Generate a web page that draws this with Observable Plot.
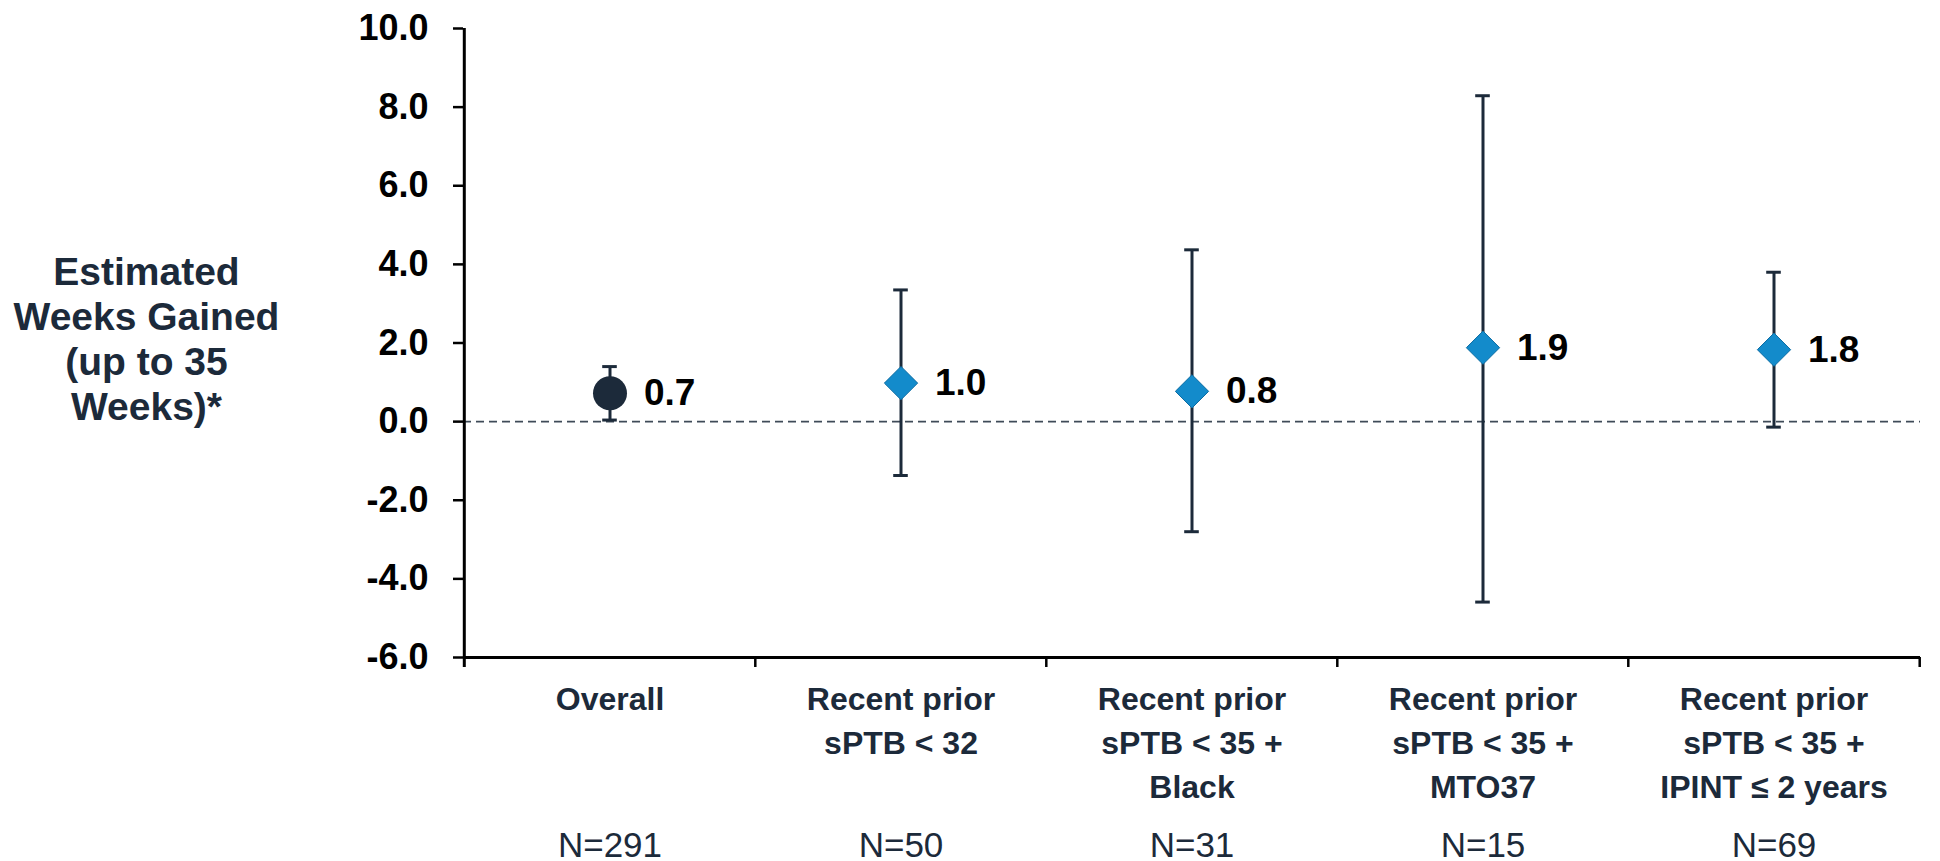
<!DOCTYPE html>
<html>
<head>
<meta charset="utf-8">
<script src="https://cdn.jsdelivr.net/npm/d3@7"></script>
<script src="https://cdn.jsdelivr.net/npm/@observablehq/plot@0.6"></script>
<style>
  html, body { margin: 0; padding: 0; background: #ffffff; overflow: hidden; }
  #chart svg { display: block; }
</style>
</head>
<body>
<div id="chart"></div>
<script>
// ---- data ----
const categories = [
  "Overall",
  "Recent prior\nsPTB < 32",
  "Recent prior\nsPTB < 35 +\nBlack",
  "Recent prior\nsPTB < 35 +\nMTO37",
  "Recent prior\nsPTB < 35 +\nIPINT ≤ 2 years"
];
const estimates = [0.72, 0.98, 0.77, 1.88, 1.83];
const estimateLabels = ["0.7", "1.0", "0.8", "1.9", "1.8"];
const lowerCI = [0.04, -1.37, -2.80, -4.59, -0.14];
const upperCI = [1.40, 3.35, 4.37, 8.29, 3.80];
const sampleSizes = ["N=291", "N=50", "N=31", "N=15", "N=69"];
const yTicks = [-6, -4, -2, 0, 2, 4, 6, 8, 10];
const yLabel = "Estimated\nWeeks Gained\n(up to 35\nWeeks)*";

// ---- layout ----
const W = 1940, H = 861;
const mL = 463, mR = 20, mT = 28, mB = 204;
const bw = (W - mL - mR) / categories.length;
const unitPx = (H - mT - mB) / (yTicks[yTicks.length - 1] - yTicks[0]);
const ext = 10 / unitPx; // 10px tick below the x axis, in y units
const navy = "#1c2a3a";
const blue = "#138bcb";
const font = "'Liberation Sans', Arial, Helvetica, sans-serif";

const rows = categories.map((c, i) => ({
  cat: c, est: estimates[i], lo: lowerCI[i], hi: upperCI[i],
  label: estimateLabels[i], n: sampleSizes[i], overall: i === 0
}));

const chart = Plot.plot({
  width: W,
  height: H,
  marginLeft: mL,
  marginRight: mR,
  marginTop: mT,
  marginBottom: mB,
  style: { fontFamily: font, background: "#ffffff", overflow: "visible" },
  x: { type: "band", domain: categories, padding: 0, axis: null },
  y: { domain: [yTicks[0], yTicks[yTicks.length - 1]] },
  marks: [
    // dashed zero line
    Plot.ruleY([0], { stroke: "#3f4b58", strokeWidth: 1.6, strokeDasharray: "8,5" }),
    // error bars
    Plot.ruleX(rows, { x: "cat", y1: "lo", y2: "hi", stroke: navy, strokeWidth: 3 }),
    Plot.tickY(rows, { x: "cat", y: "lo", stroke: navy, strokeWidth: 3, insetLeft: bw / 2 - 7.5, insetRight: bw / 2 - 7.5 }),
    Plot.tickY(rows, { x: "cat", y: "hi", stroke: navy, strokeWidth: 3, insetLeft: bw / 2 - 7.5, insetRight: bw / 2 - 7.5 }),
    // points
    Plot.dot(rows.filter(d => d.overall), { x: "cat", y: "est", r: 17, fill: navy, stroke: "none" }),
    Plot.dot(rows.filter(d => !d.overall), { x: "cat", y: "est", symbol: "diamond2", r: 15, fill: blue, stroke: "#0b6ca3", strokeWidth: 1 }),
    // value labels
    Plot.text(rows, { x: "cat", y: "est", text: "label", dx: 34, textAnchor: "start", fontSize: 37, fontWeight: "bold", fill: "#000000" }),
    // y axis
    Plot.axisY({ ticks: yTicks, tickSize: 10, tickPadding: 25, tickFormat: d => d.toFixed(1), fontSize: 36, fontWeight: "bold", color: "#000000", strokeWidth: 2.5, label: null }),
    Plot.ruleX([categories[0]], { x: d => d, dx: -bw / 2, y1: yTicks[0] - ext, y2: yTicks[yTicks.length - 1], stroke: "#000000", strokeWidth: 3 }),
    // x axis line and category boundary ticks
    Plot.ruleY([yTicks[0]], { stroke: "#000000", strokeWidth: 3 }),
    Plot.ruleX(categories.slice(1), { x: d => d, dx: -bw / 2, y1: yTicks[0] - ext, y2: yTicks[0], stroke: "#000000", strokeWidth: 2.5 }),
    Plot.ruleX([categories[categories.length - 1]], { x: d => d, dx: bw / 2, y1: yTicks[0] - ext, y2: yTicks[0], stroke: "#000000", strokeWidth: 2.5 }),
    // category labels
    Plot.text(rows, { x: "cat", text: "cat", frameAnchor: "bottom", lineAnchor: "top", dy: 21, fontSize: 32, fontWeight: "bold", fill: navy, lineHeight: 1.38 }),
    // sample sizes
    Plot.text(rows, { x: "cat", text: "n", frameAnchor: "bottom", lineAnchor: "middle", dy: 188, fontSize: 35, fontWeight: "normal", fill: navy }),
    // y axis title
    Plot.text([yLabel], { text: d => d, frameAnchor: "left", dx: 146 - mL, dy: -5, textAnchor: "middle", lineAnchor: "middle", fontSize: 39, fontWeight: "bold", fill: navy, lineHeight: 1.16 })
  ]
});

document.getElementById("chart").append(chart);
</script>
</body>
</html>
